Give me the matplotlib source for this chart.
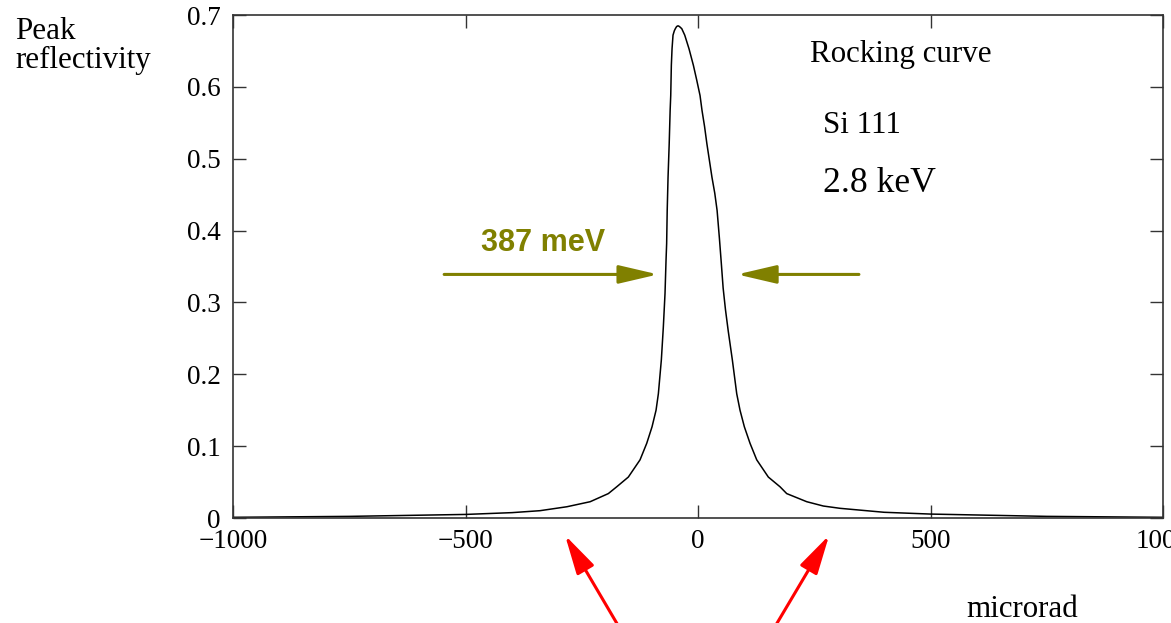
import numpy as np
import matplotlib.pyplot as plt

angle_urad = [-1000, -750, -500, -400, -340, -282, -232, -192.9, -174.8, -149.9,
              -124.7, -110.3, -98.9, -90.3, -85.3, -78.9, -74.6, -71, -68.8,
              -67.5, -66.3, -64.5, -62, -60, -58.7, -57.4, -55.9, -53.8, -51,
              -48.8, -46, -43, -40, -35, -28.6, -19.4, -10, -3, 4.3, 8.6, 14,
              19, 30, 36, 41, 46, 50, 54, 59, 65, 73.8, 83.2, 90.3, 99.6, 111.8,
              126.2, 151.2, 176.3, 190.7, 233.8, 269.5, 305.4, 400, 500, 750, 1000]
reflectivity = [0.001, 0.0023, 0.005, 0.0075, 0.0102, 0.0157, 0.0227, 0.034, 0.0435,
                0.057, 0.081, 0.104, 0.127, 0.150, 0.173, 0.220, 0.266, 0.3125,
                0.359, 0.382, 0.428, 0.474, 0.521, 0.567, 0.588, 0.630, 0.653,
                0.672, 0.678, 0.681, 0.684, 0.685, 0.684, 0.681, 0.672, 0.653,
                0.630, 0.610, 0.588, 0.567, 0.545, 0.521, 0.474, 0.452, 0.428,
                0.389, 0.355, 0.320, 0.290, 0.260, 0.220, 0.173, 0.150, 0.127,
                0.104, 0.081, 0.057, 0.0435, 0.034, 0.0227, 0.0167, 0.0135, 0.008,
                0.0055, 0.0023, 0.001]

x = np.array(angle_urad)
y = np.array(reflectivity)

# FWHM marker arrows (tail, tip) and the label
fwhm_label = "387 meV"
fwhm_y = 0.339
fwhm_left = (-546, -86)
fwhm_right = (346, 84)

# red pointers below the axis (tail, tip) in data units
pointer_left = ((-166, -0.156), (-286, -0.024))
pointer_right = ((161, -0.156), (282, -0.024))

olive = "#808000"
serif = ["Liberation Serif", "DejaVu Serif"]
plt.rcParams["font.family"] = serif

fig = plt.figure(figsize=(11.71, 6.23), dpi=100)
ax = fig.add_axes([0.199, 0.1685, 0.7942, 0.8074])

ax.plot(x, y, color="black", lw=1.1)

ax.set_xlim(-1000, 1000)
ax.set_ylim(0, 0.7)
ax.set_xticks([-1000, -500, 0, 500, 1000])
ax.set_yticks(np.arange(0, 0.71, 0.1))
ax.set_yticklabels(["0", "0.1", "0.2", "0.3", "0.4", "0.5", "0.6", "0.7"])
ax.tick_params(direction="in", top=True, right=True, length=9.5, width=1.0,
               color="#333333", labelsize=19.5)
ax.tick_params(axis="x", pad=8)
ax.tick_params(axis="y", pad=9)
for s in ax.spines.values():
    s.set_color("#333333")
    s.set_linewidth(1.2)

# FWHM arrows
for tail, tip in (fwhm_left, fwhm_right):
    ax.annotate("", xy=(tip, fwhm_y), xytext=(tail, fwhm_y),
                arrowprops=dict(arrowstyle="-|>,head_length=1.2,head_width=0.28",
                                mutation_scale=20, color=olive, lw=2.2,
                                shrinkA=0, shrinkB=0))
ax.text(-334, 0.371, fwhm_label, color=olive, fontsize=22, fontweight="bold",
        family=["Liberation Sans", "DejaVu Sans"], ha="center", va="baseline")

# red pointers
for tail, tip in (pointer_left, pointer_right):
    ax.annotate("", xy=tip, xytext=tail, annotation_clip=False,
                arrowprops=dict(arrowstyle="-|>,head_length=1.2,head_width=0.3",
                                mutation_scale=20, color="red", lw=2.2,
                                shrinkA=0, shrinkB=0))

# labels
fig.text(15 / 1171, 1 - 39 / 623, "Peak", fontsize=22.3, va="baseline")
fig.text(15 / 1171, 1 - 68 / 623, "reflectivity", fontsize=22.3, va="baseline")
fig.text(810 / 1171, 1 - 62 / 623, "Rocking curve", fontsize=22.3, va="baseline")
fig.text(823 / 1171, 1 - 133 / 623, "Si 111", fontsize=22.3, va="baseline")
fig.text(823 / 1171, 1 - 192 / 623, "2.8 keV", fontsize=25.7, va="baseline")
fig.text(966 / 1171, 1 - 617 / 623, "microrad", fontsize=22.3, va="baseline")

fig.savefig("out.png", dpi=100)
